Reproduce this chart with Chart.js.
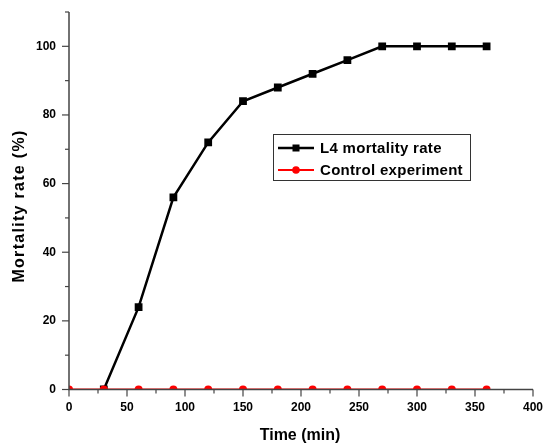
<!DOCTYPE html>
<html>
<head>
<meta charset="utf-8">
<script src="https://cdn.jsdelivr.net/npm/chart.js@4"></script>
<style>
  html, body { margin: 0; padding: 0; background: #fff; }
  #wrap { width: 544px; height: 447px; }
</style>
</head>
<body>
<div id="wrap"><canvas id="mycanvas"></canvas></div>
<script>
// data
var timeL4 = [30, 60, 90, 120, 150, 180, 210, 240, 270, 300, 330, 360];
var mortalityL4 = [0, 24, 56, 72, 84, 88, 92, 96, 100, 100, 100, 100];
var timeControl = [0, 30, 60, 90, 120, 150, 180, 210, 240, 270, 300, 330, 360];
var mortalityControl = [0, 0, 0, 0, 0, 0, 0, 0, 0, 0, 0, 0, 0];
var legendLabels = ["L4 mortality rate", "Control experiment"];

var FONT = "'Liberation Sans', Arial, sans-serif";
var AXIS = "#444";

function pairs(xs, ys) {
	var out = [];
	for (var i in xs) out.push({x: xs[i], y: ys[i]});
	return out;
}

// ticks, axis titles and the boxed legend
var decor = {
	id: "decor",
	afterDatasetsDraw: function(chart) {
		var ctx = chart.ctx;
		var xs = chart.scales.x, ys = chart.scales.y;
		var a = chart.chartArea;
		ctx.save();
		ctx.strokeStyle = AXIS;
		ctx.lineWidth = 1.5;
		ctx.beginPath();
		ctx.moveTo(a.left, a.top); ctx.lineTo(a.left, a.bottom); ctx.lineTo(a.right, a.bottom);
		ctx.stroke();
		ctx.lineWidth = 1.2;
		ctx.fillStyle = "#000";
		ctx.font = "bold 12px " + FONT;
		// x ticks
		ctx.textAlign = "center"; ctx.textBaseline = "top";
		for (var v = 0; v <= 400; v += 25) {
			var px = xs.getPixelForValue(v);
			var major = v % 50 === 0;
			ctx.beginPath(); ctx.moveTo(px, a.bottom); ctx.lineTo(px, a.bottom + (major ? 7 : 4)); ctx.stroke();
			if (major) ctx.fillText(String(v), px, a.bottom + 12);
		}
		// y ticks
		ctx.textAlign = "right"; ctx.textBaseline = "middle";
		for (var w = 0; w <= 110; w += 10) {
			var py = ys.getPixelForValue(w);
			var maj = w % 20 === 0;
			ctx.beginPath(); ctx.moveTo(a.left, py); ctx.lineTo(a.left - (maj ? 7 : 4), py); ctx.stroke();
			if (maj) ctx.fillText(String(w), a.left - 13, py);
		}
		// axis titles
		ctx.font = "bold 16px " + FONT;
		ctx.textAlign = "center"; ctx.textBaseline = "middle";
		ctx.fillText("Time (min)", 300, 436);
		ctx.save();
		ctx.translate(20, 206);
		ctx.rotate(-Math.PI / 2);
		ctx.letterSpacing = "1.3px";
		ctx.fillText("Mortality rate (%)", 0, 0);
		ctx.restore();
		// legend
		var lx = 273, ly = 134, lw = 197, lh = 46;
		ctx.fillStyle = "#fff";
		ctx.fillRect(lx, ly, lw, lh);
		ctx.strokeStyle = "#333"; ctx.lineWidth = 1;
		ctx.strokeRect(lx + 0.5, ly + 0.5, lw, lh);
		var rows = [
			{y: ly + 14, color: "#000", width: 2.5, shape: "rect"},
			{y: ly + 36, color: "#f00", width: 2, shape: "circle"}
		];
		ctx.font = "bold 15px " + FONT;
		ctx.letterSpacing = "0.3px";
		ctx.textAlign = "left"; ctx.textBaseline = "middle";
		for (var r = 0; r < rows.length; r++) {
			var row = rows[r];
			ctx.strokeStyle = row.color; ctx.fillStyle = row.color; ctx.lineWidth = row.width;
			ctx.beginPath(); ctx.moveTo(lx + 5, row.y); ctx.lineTo(lx + 41, row.y); ctx.stroke();
			if (row.shape === "rect") ctx.fillRect(lx + 19.5, row.y - 3.5, 7, 7);
			else { ctx.beginPath(); ctx.arc(lx + 23, row.y, 3.8, 0, Math.PI * 2); ctx.fill(); }
			ctx.fillStyle = "#000";
			ctx.fillText(legendLabels[r], lx + 47, row.y + 1);
		}
		ctx.restore();
	}
};

var chartdata = {
	datasets: [
		{
			label: legendLabels[0],
			data: pairs(timeL4, mortalityL4),
			borderColor: "#000",
			backgroundColor: "#000",
			borderWidth: 2.5,
			pointStyle: "rect",
			pointRadius: 5.5,
			pointBorderWidth: 0,
			lineTension: 0,
			clip: 0,
			order: 2
		},
		{
			label: legendLabels[1],
			data: pairs(timeControl, mortalityControl),
			borderColor: "#f00",
			backgroundColor: "#f00",
			borderWidth: 1.8,
			pointStyle: "circle",
			pointRadius: 4,
			pointBorderWidth: 0,
			lineTension: 0,
			clip: 0,
			order: 1
		}
	]
};

var ctx = document.getElementById("mycanvas");
new Chart(ctx, {
	type: "line",
	data: chartdata,
	plugins: [decor],
	options: {
		responsive: true,
		maintainAspectRatio: false,
		animation: false,
		layout: {padding: {left: 0, top: 12, right: 11, bottom: 0}},
		plugins: {legend: {display: false}, tooltip: {enabled: false}},
		scales: {
			x: {
				type: "linear", min: 0, max: 400,
				grid: {display: false}, border: {display: false},
				ticks: {display: false},
				afterFit: function(s) { s.height = 57.5; }
			},
			y: {
				min: 0, max: 110,
				grid: {display: false}, border: {display: false},
				ticks: {display: false},
				afterFit: function(s) { s.width = 69; }
			}
		}
	}
});
</script>
</body>
</html>
